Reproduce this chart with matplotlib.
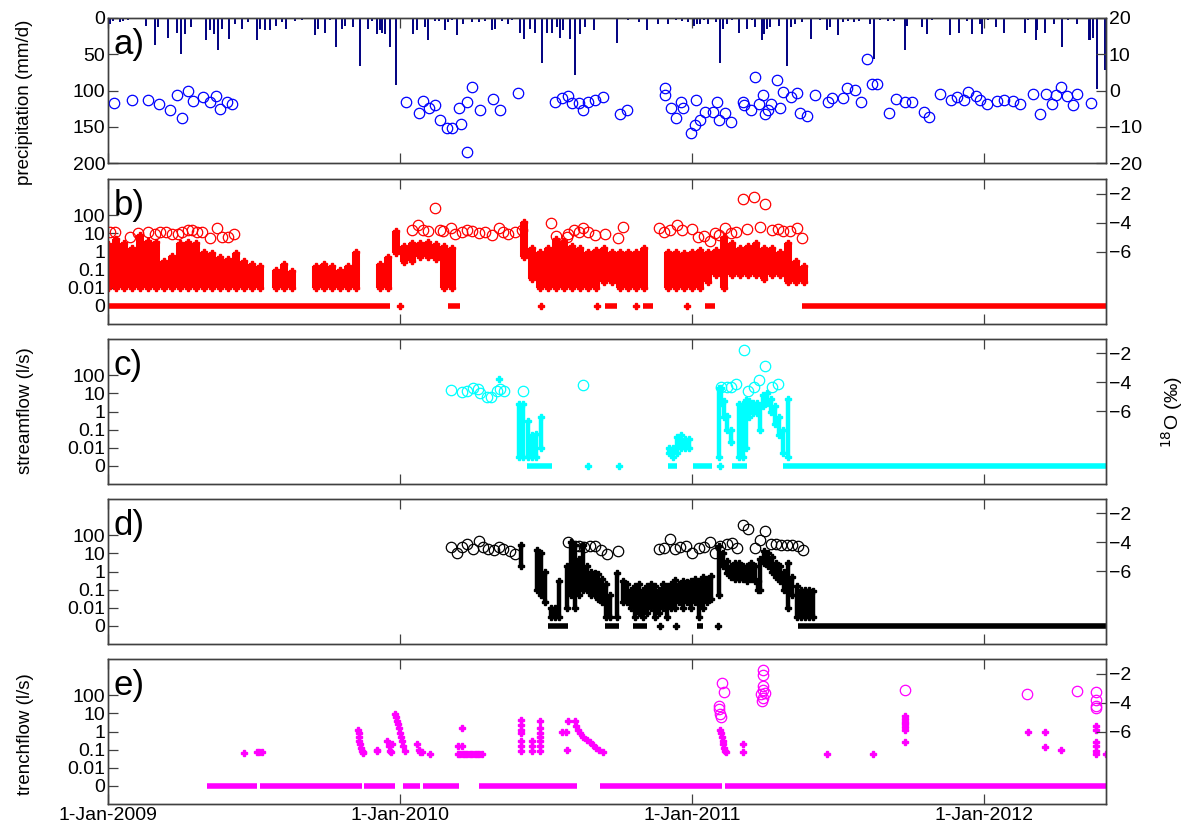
import numpy as np
import matplotlib
matplotlib.use('Agg')
import matplotlib.pyplot as plt

plt.rcParams['font.family'] = ['Liberation Sans', 'DejaVu Sans']

start = np.datetime64('2009-01-01')
end = np.datetime64('2012-06-01')

year_days = [0, 365, 730, 1095]
year_labels = ['1-Jan-2009', '1-Jan-2010', '1-Jan-2011', '1-Jan-2012']
flow_ticks = [-3, -2, -1, 0, 1, 2]
flow_labels = ['0', '0.01', '0.1', '1', '10', '100']

# a) precipitation (day since 1-Jan-2009, mm/d)
p_day = [2, 6, 10, 15, 19, 25, 30, 40, 48, 59, 63, 75, 86, 91, 96, 104, 110, 123, 128, 132,
         137, 142, 151, 159, 167, 175, 180, 186, 190, 196, 202, 210, 217, 223, 234, 242, 250,
         259, 263, 271, 278, 285, 292, 296, 300, 306, 315, 320, 325, 330, 336, 340, 342, 346,
         352, 360, 381, 386, 396, 400, 409, 413, 415, 421, 425, 430, 436, 444, 450, 455, 463,
         470, 471, 480, 484, 492, 500, 505, 515, 520, 527, 534, 540, 542, 548, 555, 561, 565,
         569, 577, 584, 590, 596, 600, 607, 636, 640, 650, 664, 674, 687, 690, 700, 710, 717,
         725, 732, 736, 740, 745, 750, 755, 760, 765, 769, 773, 780, 789, 798, 805, 809, 817,
         820, 823, 827, 830, 838, 849, 854, 859, 867, 870, 878, 890, 898, 902, 912, 919, 925,
         932, 938, 945, 952, 957, 965, 975, 982, 990, 996, 998, 1010, 1017, 1023, 1030, 1045,
         1052, 1063, 1073, 1080, 1090, 1092, 1100, 1109, 1119, 1130, 1146, 1150, 1159, 1161,
         1171, 1182, 1190, 1192, 1200, 1211, 1215, 1226, 1227, 1231, 1236, 1246]
p_mm = [8, 4, 2, 5, 4, 3, 2, 2, 11, 37, 13, 28, 20, 50, 22, 13, 2, 31, 17, 22,
        44, 15, 29, 8, 15, 6, 2, 31, 15, 17, 17, 11, 6, 15, 4, 3, 2,
        24, 15, 20, 3, 40, 15, 11, 2, 13, 66, 2, 15, 4, 22, 17, 20, 22,
        40, 93, 22, 17, 13, 31, 4, 4, 2, 17, 6, 3, 24, 8, 2, 6, 6,
        2, 4, 17, 15, 4, 8, 3, 20, 29, 15, 20, 2, 62, 20, 20, 13, 27,
        17, 29, 78, 22, 13, 2, 17, 34, 2, 3, 5, 17, 8, 2, 8, 3, 4,
        6, 11, 8, 8, 3, 8, 2, 6, 62, 15, 8, 3, 20, 15, 3, 13, 31,
        22, 15, 13, 2, 11, 66, 13, 8, 6, 2, 29, 3, 17, 13, 24, 6, 4,
        6, 4, 2, 8, 57, 3, 4, 4, 2, 44, 11, 2, 13, 22, 3, 2,
        24, 20, 4, 22, 8, 22, 3, 13, 20, 2, 20, 3, 31, 17,
        20, 8, 2, 40, 3, 8, 2, 30, 30, 27, 98, 72]

# a) 18O of precipitation
pi_day = [8, 30, 50, 64, 78, 86, 92, 100, 106, 119, 128, 135, 140, 149, 155,
          372, 388, 394, 401, 408, 415, 424, 430, 438, 441, 449, 449, 455, 465, 481, 490, 512,
          559, 567, 575, 580, 588, 593, 600, 609, 619, 640, 648,
          696, 696, 703, 710, 716, 719, 728, 734, 735, 740, 746, 756, 761, 763, 771, 779, 793,
          795, 803, 808, 814, 819, 821, 825, 828, 836, 840, 844, 853, 861, 865, 873, 883, 900,
          905, 918, 924, 933, 941, 948, 954, 961, 976, 984, 996, 1005, 1020, 1026, 1039, 1053,
          1061, 1069, 1074, 1084, 1090, 1098, 1111, 1119, 1131, 1140, 1156, 1165, 1172, 1179,
          1184, 1191, 1198, 1206, 1211, 1228]
pi_val = [-3.5, -2.6, -2.6, -3.8, -5.4, -1.2, -7.7, 0.0, -2.9, -1.9, -3.2, -1.5, -5.2, -3.2, -3.8,
          -3.2, -6.2, -2.9, -4.8, -4.0, -8.1, -10.3, -10.3, -4.8, -9.2, -17.0, -3.2, 1.0, -5.4, -2.3, -5.4, -0.7,
          -3.2, -2.1, -1.5, -3.4, -3.4, -5.4, -3.2, -2.6, -1.8, -6.5, -5.4,
          0.7, -1.2, -4.8, -7.6, -3.2, -4.8, -11.7, -9.5, -2.6, -8.1, -5.9, -5.9, -3.2, -8.1, -6.2, -8.7, -3.2,
          -4.0, -5.4, 3.7, -3.7, -1.2, -6.5, -5.4, -3.7, 2.9, -4.8, -0.4, -1.8, -0.7, -6.2, -7.0, -1.2, -3.2,
          -2.1, -2.1, 0.7, 0.1, -3.2, 8.7, 1.8, 1.8, -6.2, -2.3, -3.2, -3.2, -5.9, -7.3, -1.0, -2.6,
          -1.8, -2.6, -0.4, -1.5, -2.6, -3.7, -2.9, -2.6, -2.9, -3.7, -1.0, -6.5, -1.0, -3.7,
          -1.2, 1.0, -1.5, -4.0, -1.0, -3.4]

# b) precipitation sampler flow: 10-day blocks (low, high)
b_day = [0, 10, 20, 30, 40, 50, 60, 70, 80, 90, 100, 110, 120, 130, 140, 150, 160, 170, 180, 190,
         210, 220, 230, 260, 270, 280, 290, 300, 310, 340, 350, 360, 370, 380, 390, 400, 410, 420, 430,
         520, 530, 540, 550, 560, 570, 580, 590, 600, 610, 620, 630, 640, 650, 660, 670,
         700, 710, 720, 730, 740, 750, 760, 770, 780, 790, 800, 810, 820, 830, 840, 850, 860, 870]
b_lo = [0.01, 0.01, 0.01, 0.01, 0.01, 0.01, 0.01, 0.01, 0.01, 0.01, 0.01, 0.01, 0.01, 0.01, 0.01, 0.01, 0.01, 0.01, 0.01, 0.01,
        0.01, 0.01, 0.01, 0.01, 0.01, 0.01, 0.01, 0.01, 0.01, 0.01, 0.01, 0.8, 0.25, 0.3, 0.5, 0.5, 0.4, 0.01, 0.01,
        0.5, 0.03, 0.01, 0.01, 0.01, 0.01, 0.01, 0.01, 0.01, 0.01, 0.02, 0.02, 0.01, 0.01, 0.01, 0.01,
        0.01, 0.01, 0.01, 0.01, 0.01, 0.02, 0.05, 0.01, 0.05, 0.05, 0.05, 0.05, 0.03, 0.05, 0.05, 0.02, 0.02, 0.02]
b_hi = [2.5, 5, 3, 1.5, 8, 4, 3.5, 0.3, 0.6, 3, 3.2, 3, 1, 0.8, 0.5, 0.4, 0.8, 0.3, 0.2, 0.15,
        0.1, 0.2, 0.08, 0.15, 0.2, 0.15, 0.1, 0.15, 1.0, 0.2, 0.5, 14, 2, 3, 3, 3.5, 2.5, 2, 1.5,
        40, 1.5, 1.0, 1.5, 5, 4, 2, 1.5, 1.0, 1.2, 1.6, 1.0, 1.0, 1.0, 1.0, 1.5,
        1.0, 1.0, 0.8, 1.0, 1.2, 1.0, 1.2, 6, 3, 1.5, 2, 3, 1.5, 1.5, 1.0, 3, 0.3, 0.15]
b_zero_spans = [(0, 352), (425, 440), (621, 636), (668, 681), (746, 759), (867, 1247)]
b_zero_dots = [365, 541, 611, 660, 724]
bi_day = [2, 9, 27, 38, 50, 59, 65, 73, 80, 88, 93, 100, 105, 111, 117, 127, 136, 142, 150, 157,
          380, 387, 394, 400, 408, 415, 419, 428, 434, 442, 448, 455, 463, 471, 480, 488, 494, 500, 509, 517,
          553, 560, 573, 575, 582, 588, 594, 600, 609, 621, 637, 644,
          688, 695, 702, 711, 717, 730, 737, 745, 752, 759, 764, 771, 778, 785, 794, 799, 807, 815,
          821, 830, 837, 843, 852, 861, 867]
bi_val = [-4.67, -4.67, -5.0, -4.75, -4.67, -4.78, -4.67, -4.67, -4.78, -4.78, -4.67, -4.55, -4.55, -4.67, -4.67,
          -5.08, -4.37, -5.0, -5.0, -4.78,
          -4.55, -4.2, -4.55, -4.6, -3.0, -4.55, -4.6, -4.4, -4.8, -4.65, -4.5, -4.6, -4.7, -4.65, -4.85, -4.4,
          -4.65, -4.8, -4.65, -4.55,
          -4.0, -4.9, -5.0, -4.8, -4.55, -4.65, -4.4, -4.65, -4.85, -4.8, -5.1, -4.3,
          -4.35, -4.65, -4.5, -4.2, -4.5, -4.45, -5.0, -4.95, -5.3, -4.7, -4.85, -4.35, -4.7, -4.65, -2.35,
          -4.45, -2.25, -4.3, -2.75, -4.5, -4.45, -4.6, -4.6, -4.35, -5.05]

# c) streamflow: 5-day blocks (low, high)
c_day = [514, 519, 525, 530, 535, 541, 701, 706, 711, 716, 721, 726, 763, 766, 770, 774, 778,
         788, 793, 797, 801, 806, 811, 815, 819, 823, 828, 833, 838, 843, 850]
c_lo = [0.003, 0.003, 0.003, 0.003, 0.003, 0.01, 0.005, 0.003, 0.005, 0.01, 0.01, 0.01, 0.003, 3, 0.5, 0.1, 0.02,
        0.003, 0.003, 0.01, 0.5, 0.8, 0.8, 0.1, 2, 3, 1, 0.2, 0.05, 0.005, 0.003]
c_hi = [2.5, 2.5, 0.3, 0.05, 0.06, 0.5, 0.01, 0.01, 0.04, 0.05, 0.03, 0.03, 20, 20, 4, 0.6, 0.1,
        2.5, 2.5, 4.5, 4, 3, 3, 2, 8, 10, 5, 2, 0.5, 0.1, 5]
c_pt_day = [489]
c_pt_val = [60]
c_zero_spans = [(524, 555), (700, 711), (731, 755), (780, 799), (843, 1247)]
c_zero_dots = [600, 639, 765]
ci_day = [428, 442, 448, 456, 462, 465, 473, 479, 486, 490, 495, 518, 594,
          766, 773, 779, 785, 795, 800, 807, 814, 821, 830, 837]
ci_val = [-4.55, -4.67, -4.6, -4.4, -4.46, -4.7, -4.97, -4.97, -4.62, -4.46, -4.62, -4.58, -4.16,
          -4.28, -4.28, -4.28, -4.1, -1.75, -4.62, -4.28, -3.8, -2.85, -4.32, -4.1]

# d) 5-day blocks (low, high)
d_day = [516, 536, 541, 546, 553, 558, 563, 573, 578, 583, 588, 593, 598, 603, 608, 612, 617, 622, 627,
         636, 643, 648, 653, 658, 663, 668, 673, 678, 683, 688, 693, 698, 703, 708, 713, 718, 723, 728,
         733, 738, 743, 748, 753, 763, 768, 773, 778, 783, 788, 793, 798, 803, 808, 812, 815, 820, 825,
         830, 835, 840, 845, 850, 855, 861, 866, 871, 876, 881]
d_lo = [2, 0.1, 0.05, 0.02, 0.003, 0.003, 0.003, 0.01, 0.05, 0.01, 0.05, 0.1, 0.1, 0.05, 0.05, 0.03, 0.02, 0.003, 0.003,
        0.003, 0.02, 0.02, 0.01, 0.003, 0.005, 0.003, 0.005, 0.01, 0.003, 0.005, 0.01, 0.003, 0.01, 0.01, 0.02, 0.01, 0.02, 0.01,
        0.02, 0.003, 0.01, 0.02, 0.03, 0.05, 2, 0.8, 0.5, 0.4, 0.4, 0.4, 0.3, 0.4, 0.3, 0.1, 0.1, 3, 2,
        1, 0.5, 0.3, 0.1, 0.01, 0.05, 0.003, 0.003, 0.003, 0.003, 0.003]
d_hi = [30, 15, 10, 1, 0.01, 0.01, 0.3, 2, 40, 30, 5, 30, 2, 1, 0.8, 0.7, 0.4, 0.2, 0.05,
        0.8, 0.3, 0.2, 0.1, 0.15, 0.2, 0.1, 0.15, 0.2, 0.15, 0.1, 0.2, 0.15, 0.2, 0.35, 0.2, 0.3, 0.25, 0.3,
        0.4, 0.3, 0.5, 0.4, 0.6, 25, 10, 4, 2, 3, 3, 2, 2, 3, 2, 0.3, 5, 14, 10,
        6, 3, 2, 1, 3, 0.5, 0.15, 0.1, 0.1, 0.1, 0.08]
d_zero_spans = [(550, 575), (621, 638), (656, 673), (736, 744), (862, 1247)]
d_zero_dots = [690, 710, 762]
di_day = [428, 436, 442, 449, 456, 463, 469, 475, 482, 488, 494, 502, 509,
          575, 584, 589, 595, 602, 609, 616, 623, 637,
          688, 695, 702, 709, 715, 722, 730, 738, 745, 752, 759, 765, 773, 780, 786, 794, 800,
          808, 815, 821, 828, 835, 841, 848, 855, 862, 868]
di_val = [-4.32, -4.69, -4.32, -4.12, -4.46, -3.88, -4.32, -4.46, -4.5, -4.28, -4.46, -4.57, -4.78,
          -3.98, -4.23, -4.23, -4.32, -4.23, -4.23, -4.5, -4.78, -4.62,
          -4.46, -4.39, -3.77, -4.43, -4.32, -4.23, -4.69, -4.39, -4.32, -4.0, -4.69, -4.23, -4.09, -4.05,
          -4.39, -2.78, -3.06, -4.39, -3.86, -3.24, -4.09, -4.09, -4.16, -4.16, -4.16, -4.23, -4.5]

# e) trenchflow points
e_day = [170, 186, 189, 192, 312, 313, 313, 314, 315, 316, 317, 318, 319, 336, 336,
         349, 351, 352, 354, 355, 359, 360, 361, 362, 363, 365, 366, 367, 369, 371,
         386, 388, 390, 392, 402, 437, 437, 440, 442, 442, 443, 446, 449, 452, 455, 458, 461, 464, 467,
         516, 516, 516, 516, 516, 516, 516, 530, 530, 530, 540, 540, 540, 540, 540, 540, 540,
         567, 572, 574, 575, 584, 585, 587, 590, 594, 598, 602, 606, 610, 614, 618,
         765, 766, 767, 768, 769, 770, 771, 772, 794, 794, 899, 956,
         996, 996, 996, 996, 996, 996, 996, 1149, 1171, 1171, 1191,
         1234, 1234, 1234, 1234, 1234, 1234, 1247]
e_val = [0.063, 0.078, 0.078, 0.075, 1.2, 0.8, 0.5, 0.3, 0.2, 0.12, 0.08, 0.07, 0.065, 0.08, 0.1,
         0.3, 0.15, 0.08, 0.07, 0.2, 9, 6, 4, 2.5, 1.5, 0.8, 0.5, 0.3, 0.15, 0.08,
         0.2, 0.1, 0.07, 0.07, 0.06, 0.06, 0.15, 0.06, 0.15, 1.6, 0.06, 0.06, 0.06, 0.06, 0.06, 0.06, 0.06, 0.06, 0.06,
         4.5, 2.4, 1.2, 0.8, 0.3, 0.15, 0.08, 0.3, 0.15, 0.08, 4, 1.5, 0.8, 0.5, 0.3, 0.15, 0.08,
         1.0, 1.0, 0.1, 4, 4, 2, 1.2, 0.8, 0.5, 0.35, 0.25, 0.18, 0.13, 0.09, 0.07,
         1.2, 0.8, 0.5, 0.3, 0.2, 0.12, 0.08, 0.07, 0.2, 0.07, 0.057, 0.057,
         7, 5, 3.5, 2.5, 1.8, 1.2, 0.26, 0.9, 1.0, 0.14, 0.1,
         2, 1.2, 0.25, 0.15, 0.08, 0.06, 0.06]
e_zero_spans = [(124, 186), (190, 317), (320, 359), (368, 390), (394, 438), (463, 586), (615, 767), (771, 1247)]
ei_day = [767, 770, 763, 764, 765, 766, 818, 818, 818, 819, 821, 816, 819, 817,
          996, 1148, 1211, 1235, 1234, 1235, 1234]
ei_val = [-2.64, -3.25, -4.24, -4.47, -4.76, -5.03, -1.73, -2.12, -2.87, -3.16, -3.32, -3.44, -3.66, -3.9,
          -3.16, -3.44, -3.21, -3.28, -3.85, -4.24, -4.4]


def to_date(d):
    return start + np.asarray(d, dtype=int).astype('timedelta64[D]')


def flow_pos(v):
    v = np.asarray(v, dtype=float)
    out = np.full(v.shape, -3.0)
    out[v > 0] = np.log10(v[v > 0])
    return out


W, H = 1202, 835
fig = plt.figure(figsize=(W / 100, H / 100), dpi=100)
tops = [18, 179, 339, 499, 659]
axes = [fig.add_axes([108 / W, 1 - (t + 145) / H, 998 / W, 145 / H]) for t in tops]
spine_c = '#404040'


def style(ax):
    for s in ax.spines.values():
        s.set_color(spine_c)
        s.set_linewidth(1.0)
    ax.tick_params(direction='in', length=7, width=0.9, color=spine_c, labelsize=14, pad=2)


twins = []
for i, ax in enumerate(axes):
    ax.set_xlim(start, end)
    ax.set_xticks(to_date(year_days))
    ax.set_xticklabels(year_labels if i == 4 else [''] * 4)
    ax.tick_params(axis='x', top=True, bottom=True)
    style(ax)
    rax = ax.twinx()
    style(rax)
    twins.append(rax)

# a)
ax, rax = axes[0], twins[0]
ax.vlines(to_date(p_day), 0, p_mm, colors='#000080', lw=1.4)
ax.set_ylim(200, 0)
ax.set_yticks([0, 50, 100, 150, 200])
rax.plot(to_date(pi_day), pi_val, 'o', mfc='none', mec='#0000FF', ms=7.5, mew=0.9)
rax.set_ylim(-20, 20)
rax.set_yticks([-20, -10, 0, 10, 20])


def flow_panel(ax, rax, color, lo_hi=None, zero_spans=(), zero_dots=(), iso=None, lw=5.5):
    if lo_hi is not None:
        d, lo, hi = lo_hi
        ax.vlines(to_date(d), flow_pos(lo), flow_pos(hi), colors=color, lw=lw)
        ax.plot(to_date(d), flow_pos(hi), 'P', color=color, ms=4.5, lw=0)
        ax.plot(to_date(d), flow_pos(lo), 'P', color=color, ms=4.5, lw=0)
    for s, e in zero_spans:
        ax.hlines(-3, to_date(s), to_date(e), colors=color, lw=4)
    if len(zero_dots):
        ax.plot(to_date(zero_dots), np.full(len(zero_dots), -3.0), 'P', color=color, ms=4.5)
    ax.set_ylim(-4, 4)
    ax.set_yticks(flow_ticks)
    ax.set_yticklabels(flow_labels)
    rax.plot(to_date(iso[0]), iso[1], 'o', mfc='none', mec=color, ms=7.5, mew=0.9)
    rax.set_ylim(-11, -1)
    rax.set_yticks([-6, -4, -2])


flow_panel(axes[1], twins[1], '#FF0000', (b_day, b_lo, b_hi), b_zero_spans, b_zero_dots,
           (bi_day, bi_val), lw=5.8)
flow_panel(axes[2], twins[2], '#00FFFF', (c_day, c_lo, c_hi), c_zero_spans, c_zero_dots,
           (ci_day, ci_val), lw=3.2)
axes[2].plot(to_date(c_pt_day), flow_pos(c_pt_val), 'P', color='#00FFFF', ms=4.5)
flow_panel(axes[3], twins[3], '#000000', (d_day, d_lo, d_hi), d_zero_spans, d_zero_dots,
           (di_day, di_val), lw=3.2)
flow_panel(axes[4], twins[4], '#FF00FF', None, e_zero_spans, [], (ei_day, ei_val))
axes[4].plot(to_date(e_day), flow_pos(e_val), 'P', color='#FF00FF', ms=4.5, lw=0)

for ax, lab in zip(axes, ['a)', 'b)', 'c)', 'd)', 'e)']):
    ax.text(0.006, 0.93, lab, transform=ax.transAxes, fontsize=25, va='top', ha='left')

fig.text(25 / W, 1 - 102 / H, 'precipitation (mm/d)', rotation=90, ha='center', va='center', fontsize=13.5)
fig.text(25 / W, 1 - 411 / H, 'streamflow (l/s)', rotation=90, ha='center', va='center', fontsize=13.5)
fig.text(25 / W, 1 - 734 / H, 'trenchflow (l/s)', rotation=90, ha='center', va='center', fontsize=13.5)
fig.text(1172 / W, 1 - 412 / H, r'$^{18}$O (‰)', rotation=90, ha='center', va='center', fontsize=14)

fig.savefig('out.png', dpi=100)
